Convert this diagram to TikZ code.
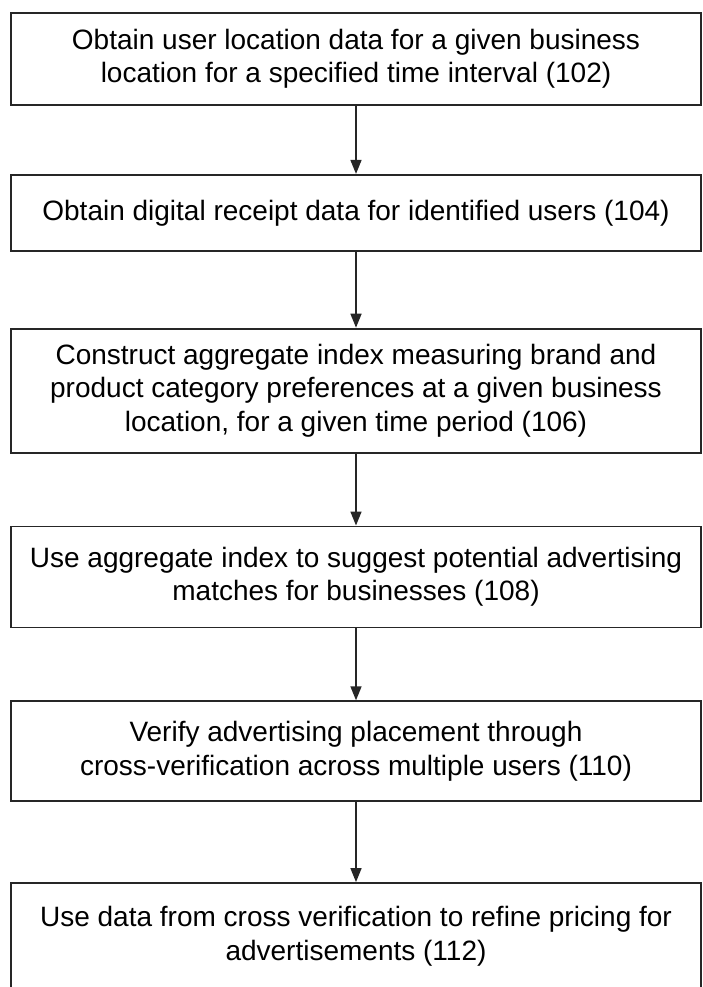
\documentclass[tikz,border=0pt]{standalone}
\usepackage{fontspec}
\setmainfont{Liberation Sans}
\usetikzlibrary{positioning}
\usetikzlibrary{arrows.meta}

\begin{document}
\begin{tikzpicture}[
    x=1pt, y=1pt,
    stepbox/.style={draw=black!85, line width=1.8pt, minimum width=690pt, inner sep=0pt, align=center, font=\fontsize{28}{33.5}\selectfont},
    arrow/.style={-{Triangle[length=14pt, width=11pt]}, line width=1.6pt, black!85},
    node distance=72pt
]
  % Page frame
  \useasboundingbox (0,0) rectangle (702,-987);

  % Step 102 (TOP)
  \node[stepbox, minimum height=92pt] (s102) at (356,-59) {Obtain user location data for a given business\\location for a specified time interval (102)};

  % Step 104
  \node[stepbox, minimum height=76pt, below=68pt of s102] (s104) {Obtain digital receipt data for identified users (104)};

  % Step 106
  \node[stepbox, minimum height=124pt, below=76pt of s104] (s106) {Construct aggregate index measuring brand and\\product category preferences at a given business\\location, for a given time period (106)};

  % Step 108
  \node[stepbox, minimum height=101pt, below=of s106] (s108) {Use aggregate index to suggest potential advertising\\matches for businesses (108)};

  % Step 110
  \node[stepbox, minimum height=100pt, below=of s108] (s110) {Verify advertising placement through\\cross-verification across multiple users (110)};

  % Step 112 (BOTTOM, runs to the page edge)
  \node[stepbox, minimum height=106pt, below=80pt of s110] (s112) {Use data from cross verification to refine pricing for\\advertisements (112)};

  % Arrows: downward flow
  \draw[arrow] (s102) -- (s104);
  \draw[arrow] (s104) -- (s106);
  \draw[arrow] (s106) -- (s108);
  \draw[arrow] (s108) -- (s110);
  \draw[arrow] (s110) -- (s112);

\end{tikzpicture}
\end{document}
